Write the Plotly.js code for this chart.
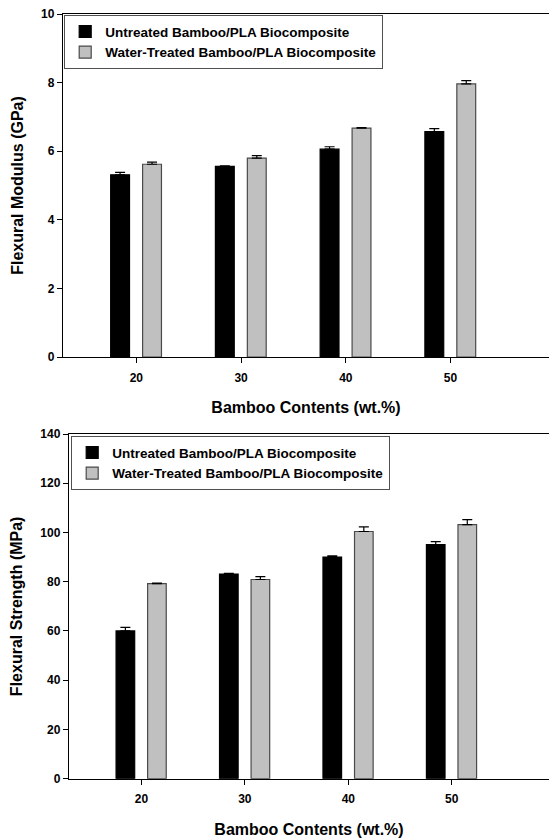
<!DOCTYPE html>
<html>
<head>
<meta charset="utf-8">
<script src="https://cdn.plot.ly/plotly-3.0.1.min.js"></script>
<style>html,body{margin:0;padding:0;background:#fff;}#chart{width:549px;height:840px;}</style>
</head>
<body>
<div id="chart"></div>
<script>
// Data
var bambooContent = [20, 30, 40, 50];
var seriesNames = ["Untreated Bamboo/PLA Biocomposite", "Water-Treated Bamboo/PLA Biocomposite"];

var modulusUntreated = [5.31, 5.56, 6.06, 6.57];
var modulusUntreatedErr = [0.07, 0.01, 0.07, 0.09];
var modulusTreated = [5.62, 5.80, 6.67, 7.96];
var modulusTreatedErr = [0.06, 0.07, 0.02, 0.10];

var strengthUntreated = [60.0, 83.1, 90.0, 95.1];
var strengthUntreatedErr = [1.5, 0.3, 0.5, 1.2];
var strengthTreated = [79.2, 80.9, 100.4, 103.2];
var strengthTreatedErr = [0.2, 1.2, 1.9, 2.0];

var yTicksModulus = [0, 2, 4, 6, 8, 10];
var yTicksStrength = [0, 20, 40, 60, 80, 100, 120, 140];

var FONT = "Liberation Sans, Arial, sans-serif";
var zeros = bambooContent.map(function(){return 0;});

function barTrace(y, err, name, color, lineColor, xa, ya, legend, offset) {
  return {
    type: "bar", x: bambooContent, y: y, name: name,
    xaxis: xa, yaxis: ya, legend: legend,
    width: 1.8, offset: offset,
    marker: {color: color, line: {color: lineColor, width: 1.2}},
    error_y: {type: "data", symmetric: false, array: err, arrayminus: zeros,
              color: "#000", thickness: 1.2, width: 5},
    hoverinfo: "skip"
  };
}

var traces = [
  barTrace(modulusUntreated, modulusUntreatedErr, seriesNames[0], "#000000", "#000000", "x", "y", "legend", -2.45),
  barTrace(modulusTreated, modulusTreatedErr, seriesNames[1], "#c0c0c0", "#4a4a4a", "x", "y", "legend", 0.6),
  barTrace(strengthUntreated, strengthUntreatedErr, seriesNames[0], "#000000", "#000000", "x2", "y2", "legend2", -2.45),
  barTrace(strengthTreated, strengthTreatedErr, seriesNames[1], "#c0c0c0", "#4a4a4a", "x2", "y2", "legend2", 0.6)
];

var W = 549, H = 840;
function fx(px){return px / W;}
function fy(py){return (H - py) / H;}

var tickFont = {family: FONT, size: 12, color: "#000", weight: "bold"};
var titleFont = {family: FONT, size: 16, color: "#000", weight: "bold"};

function xAxis(domainLeft, anchor) {
  return {
    domain: [fx(domainLeft), 1], anchor: anchor, range: [13, 59.4],
    tickvals: bambooContent, ticktext: bambooContent.map(String),
    ticks: "outside", ticklen: 5, tickwidth: 1, tickcolor: "#000",
    showline: true, linecolor: "#000", linewidth: 1.2, mirror: true,
    showgrid: false, zeroline: false, tickfont: tickFont, ticklabelstandoff: 4,
    title: {text: "Bamboo Contents (wt.%)", font: titleFont, standoff: 18}
  };
}
function yAxis(domain, anchor, range, ticks, title) {
  return {
    domain: domain, anchor: anchor, range: range, tickvals: ticks,
    ticks: "outside", ticklen: 5, tickwidth: 1, tickcolor: "#000",
    showline: true, linecolor: "#000", linewidth: 1.2,
    showgrid: false, zeroline: false, tickfont: tickFont,
    title: {text: title, font: titleFont, standoff: 13}
  };
}

var legendBase = {
  bgcolor: "#fff", bordercolor: "#505050", borderwidth: 1.2,
  font: {family: FONT, size: 13.5, color: "#000", weight: "bold"},
  xanchor: "left", yanchor: "top", tracegroupgap: 0, itemwidth: 30,
  traceorder: "normal"
};

var layout = {
  width: W, height: H,
  margin: {l: 0, r: 0, t: 0, b: 0},
  paper_bgcolor: "#fff", plot_bgcolor: "#fff",
  barmode: "overlay", showlegend: true,
  xaxis: xAxis(63, "y"),
  yaxis: yAxis([fy(357), fy(14)], "x", [0, 10], yTicksModulus, "Flexural Modulus (GPa)"),
  xaxis2: xAxis(69, "y2"),
  yaxis2: yAxis([fy(778.7), fy(434)], "x2", [0, 140], yTicksStrength, "Flexural Strength (MPa)"),
  legend: Object.assign({}, legendBase, {x: fx(64), y: fy(15)}),
  legend2: Object.assign({}, legendBase, {x: fx(71), y: fy(436)})
};

Plotly.newPlot("chart", traces, layout, {staticPlot: true, displayModeBar: false});
</script>
</body>
</html>
